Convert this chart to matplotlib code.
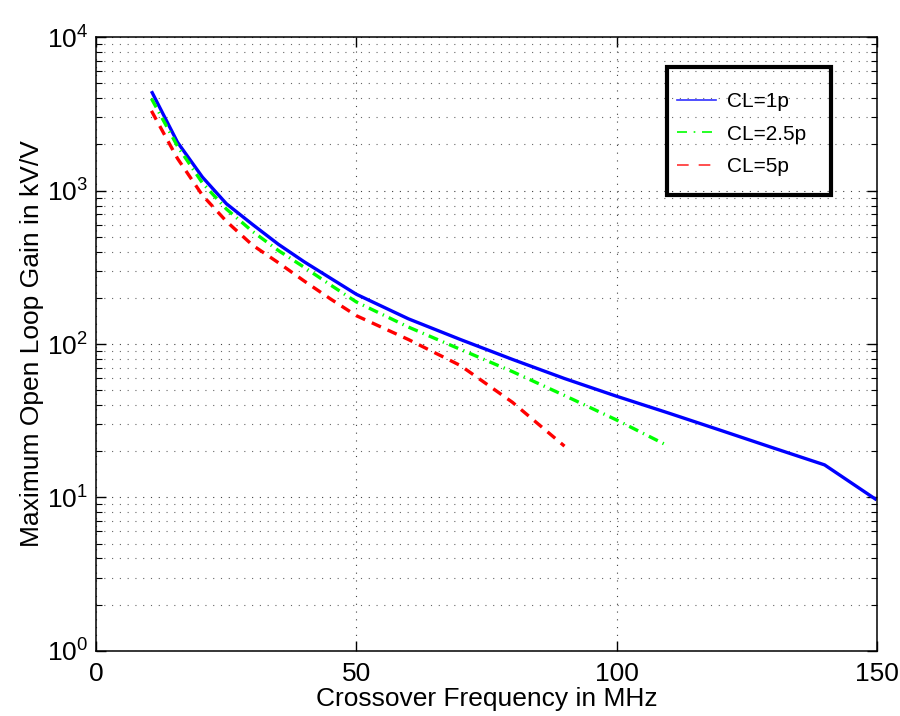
import numpy as np
import matplotlib
matplotlib.use("Agg")
import matplotlib.pyplot as plt
from matplotlib.lines import Line2D
from matplotlib.patches import Rectangle
from matplotlib.ticker import LogLocator, MultipleLocator, NullFormatter

plt.rcParams['font.family'] = ['Liberation Sans', 'DejaVu Sans']
plt.rcParams['mathtext.fontset'] = 'custom'
plt.rcParams['mathtext.rm'] = 'Liberation Sans'
plt.rcParams['mathtext.default'] = 'regular'

# crossover frequency (MHz) and max open loop gain (kV/V)
freq_1p = [10.6, 15.6, 20.4, 25, 30, 35, 40, 45, 50, 60, 70, 80, 90, 100, 110, 120, 130, 140, 150]
gain_1p = [4450, 2070, 1225, 822, 603, 447, 343, 269, 211, 146, 107, 79.4, 59.6, 45.7, 35.5, 27.4, 21.1, 16.3, 9.64]

freq_2p5 = [10.6, 15.6, 20.4, 25, 30, 35, 40, 45, 50, 60, 70, 80, 90, 100, 110]
gain_2p5 = [3981, 1950, 1122, 759, 543, 407, 316, 243, 188, 129, 92.3, 66.1, 46.2, 32.0, 21.6]

freq_5p = [10.6, 15.6, 20.4, 25, 30, 35, 40, 45, 50, 60, 70, 80, 90]
gain_5p = [3311, 1622, 933, 631, 442, 339, 257, 197, 153, 107, 72.4, 41.7, 21.6]

labels = ['CL=1p', 'CL=2.5p', 'CL=5p']

fig = plt.figure(figsize=(9, 7.16), dpi=100)
ax = fig.add_axes([0.107, 0.091, 0.867, 0.857])

lw = 2.4
ax.plot(freq_1p, gain_1p, color='#0000ff', lw=lw, ls='-', solid_capstyle='butt')
ax.plot(freq_2p5, gain_2p5, color='#00ff00', lw=lw, ls=(0, (3, 1.6, 0.4, 1.6)))
ax.plot(freq_5p, gain_5p, color='#ff0000', lw=lw, ls=(0, (3, 2.2)))

ax.set_yscale('log')
ax.set_xlim(0, 150)
ax.set_ylim(1, 1e4)
ax.xaxis.set_major_locator(MultipleLocator(50))
ax.yaxis.set_major_locator(LogLocator(base=10))
ax.yaxis.set_minor_locator(LogLocator(base=10, subs=np.arange(2, 10)))
ax.yaxis.set_minor_formatter(NullFormatter())

ax.grid(True, which='major', axis='both', color='0.25', lw=0.8, ls=(0, (1, 6)))
ax.grid(True, which='minor', axis='y', color='0.4', lw=0.8, ls=(0, (1, 6)))

ax.tick_params(which='both', direction='in', top=True, right=True, labelsize=19)
ax.tick_params(which='major', length=7, width=1)
ax.tick_params(which='minor', length=4, width=0.8)
ax.tick_params(axis='x', pad=8)
ax.tick_params(axis='y', pad=6)
for s in ax.spines.values():
    s.set_linewidth(1.1)

ax.set_xlabel('Crossover Frequency in MHz', fontsize=19, labelpad=1)
ax.set_ylabel('Maximum Open Loop Gain in kV/V', fontsize=19, labelpad=2)

# legend: transparent box with thick border, thin line samples
box = Rectangle((0.732, 0.743), 0.21, 0.208, transform=ax.transAxes,
                fill=False, edgecolor='k', lw=3, zorder=5)
ax.add_patch(box)
handles = [
    Line2D([], [], color='#3030ff', lw=1.2, ls='-'),
    Line2D([], [], color='#00ff00', lw=1.2, ls=(0, (6, 4, 1, 4))),
    Line2D([], [], color='#ff3030', lw=1.2, ls=(0, (7, 6))),
]
leg = ax.legend(handles, labels, loc='upper left', bbox_to_anchor=(0.744, 0.911),
                frameon=False, fontsize=15, borderpad=0, borderaxespad=0,
                handlelength=1.9, handletextpad=0.5, labelspacing=0.66)
leg.set_zorder(6)

fig.savefig('out.png', dpi=100)
